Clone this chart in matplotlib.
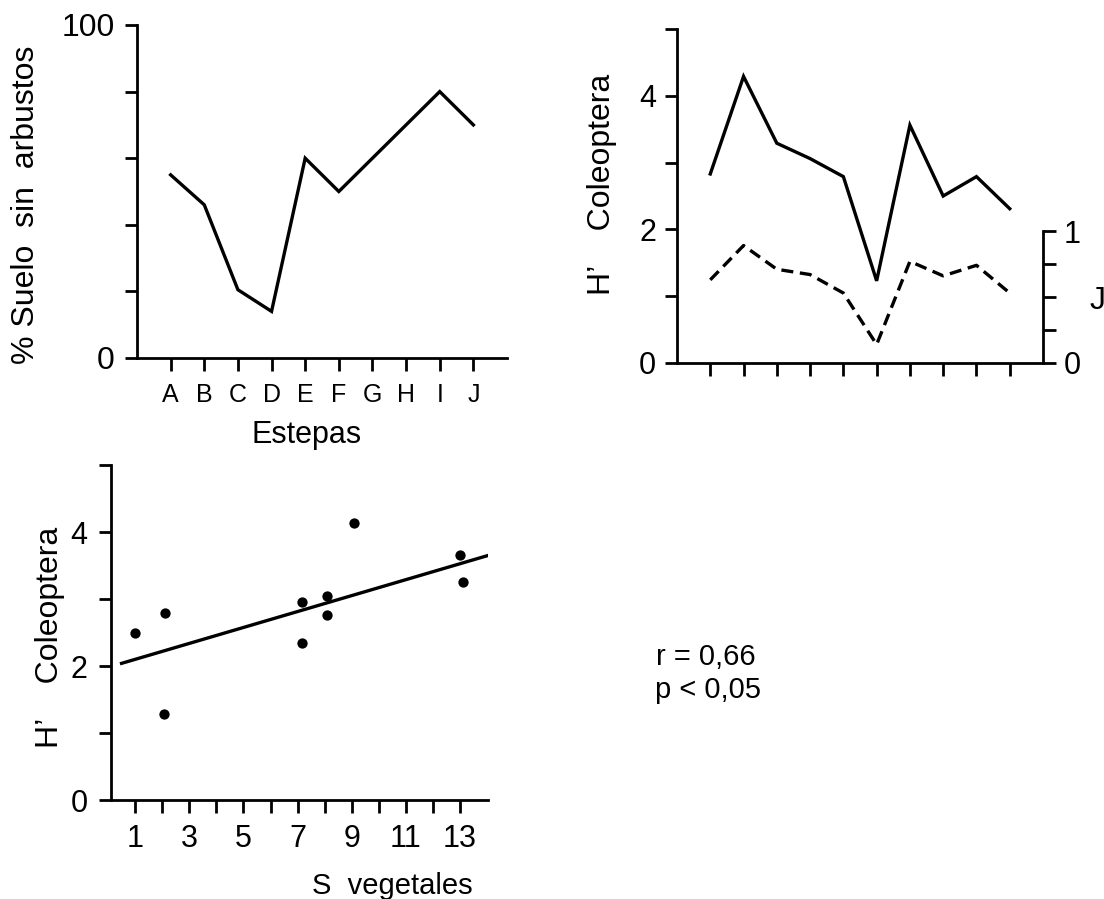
import matplotlib
matplotlib.use('Agg')
import matplotlib.pyplot as plt
import numpy as np

plt.rcParams['font.family'] = ['Liberation Sans', 'DejaVu Sans']

W, H = 1104, 899

# ---- data: panel 1 (top left) ----
estepas = ['A', 'B', 'C', 'D', 'E', 'F', 'G', 'H', 'I', 'J']
suelo_sin_arbustos = [55, 46, 20.5, 14, 60, 50, 60, 70, 80, 70]
y1_ticks = [0, 20, 40, 60, 80, 100]
y1_labels = ['0', '', '', '', '', '100']

# ---- data: panel 2 (top right) ----
h_coleoptera = [2.83, 4.29, 3.29, 3.06, 2.79, 1.23, 3.56, 2.50, 2.79, 2.31]
j_equitatividad = [0.63, 0.89, 0.71, 0.67, 0.53, 0.14, 0.77, 0.66, 0.74, 0.53]
y2_ticks = [0, 1, 2, 3, 4, 5]
y2_labels = ['0', '', '2', '', '4', '']
j_ticks = [0, 0.25, 0.5, 0.75, 1]
j_labels = ['0', '', '', '', '1']

# ---- data: panel 3 (bottom) ----
s_vegetales = [1.0, 2.1, 2.05, 7.15, 7.15, 8.1, 8.1, 9.1, 13.0, 13.1]
h_scatter = [2.50, 2.79, 1.29, 2.34, 2.96, 3.04, 2.76, 4.13, 3.65, 3.26]
reg_intercept = 1.98
reg_slope = 0.119
x3_ticks = list(range(1, 14))
x3_labels = [str(v) if v % 2 == 1 else '' for v in x3_ticks]
y3_ticks = [0, 1, 2, 3, 4, 5]
y3_labels = ['0', '', '2', '', '4', '']
r_text = 'r = 0,66'
p_text = 'p < 0,05'

LW = 2.0
LINE_LW = 2.4
TICK_LEN = 9.0

fig = plt.figure(figsize=(W / 100, H / 100), dpi=100)


def add_axes_px(left, top, right, bottom):
    return fig.add_axes([left / W, 1 - bottom / H, (right - left) / W, (bottom - top) / H])


def fx(x):
    return x / W


def fy(y):
    return 1 - y / H


def style(ax):
    for s in ['top', 'right']:
        ax.spines[s].set_visible(False)
    for s in ['left', 'bottom']:
        ax.spines[s].set_linewidth(LW)
        ax.spines[s].set_color('black')
    ax.tick_params(direction='out', length=TICK_LEN, width=LW, color='black')
    ax.patch.set_alpha(0)


# ---------------- panel 1 ----------------
ax1 = add_axes_px(137, 25, 507, 358)
style(ax1)
pos = np.arange(1, len(estepas) + 1)
ax1.plot(pos, suelo_sin_arbustos, color='black', lw=LINE_LW, solid_joinstyle='miter')
ax1.set_xlim(0, 11)
ax1.set_ylim(0, 100)
ax1.set_xticks(pos)
ax1.set_xticklabels(estepas)
ax1.set_yticks(y1_ticks)
ax1.set_yticklabels(y1_labels)
ax1.tick_params(axis='x', labelsize=18, pad=9)
ax1.tick_params(axis='y', labelsize=23, pad=7)
fig.text(fx(26), fy(205), '% Suelo  sin  arbustos', rotation=90, ha='center', va='center',
         fontsize=23)
fig.text(fx(307), fy(443), 'Estepas', ha='center', va='baseline', fontsize=22)

# ---------------- panel 2 ----------------
ax2 = add_axes_px(677, 29, 1043, 363)
style(ax2)
ax2.plot(pos, h_coleoptera, color='black', lw=LINE_LW, solid_joinstyle='miter')
ax2.set_xlim(0, 11)
ax2.set_ylim(0, 5)
ax2.set_xticks(pos)
ax2.set_xticklabels([])
ax2.set_yticks(y2_ticks)
ax2.set_yticklabels(y2_labels)
ax2.tick_params(axis='y', labelsize=22, pad=6)

ax2b = ax2.twinx()
for s in ['top', 'left', 'bottom']:
    ax2b.spines[s].set_visible(False)
ax2b.spines['right'].set_linewidth(LW)
ax2b.spines['right'].set_bounds(0, 1)
ax2b.set_ylim(0, 334 / 132)
ax2b.plot(pos, j_equitatividad, color='black', lw=LINE_LW, linestyle=(0, (3.6, 2.0)))
ax2b.set_yticks(j_ticks)
ax2b.set_yticklabels(j_labels)
ax2b.tick_params(axis='y', direction='out', length=TICK_LEN, width=LW, labelsize=22, pad=6)
ax2b.patch.set_alpha(0)

fig.text(fx(602), fy(184), 'H’    Coleoptera', rotation=90, ha='center', va='center',
         fontsize=23)
fig.text(fx(1098), fy(301), 'J', ha='center', va='center', fontsize=23)

# ---------------- panel 3 ----------------
ax3 = add_axes_px(111, 465, 488, 800)
style(ax3)
ax3.scatter(s_vegetales, h_scatter, s=55, color='black', zorder=3, linewidths=0)
xl = np.array([0.5, 14.0])
ax3.plot(xl, reg_intercept + reg_slope * xl, color='black', lw=LINE_LW)
ax3.set_xlim(0.11, 14.03)
ax3.set_ylim(0, 5)
ax3.set_xticks(x3_ticks)
ax3.set_xticklabels(x3_labels)
ax3.set_yticks(y3_ticks)
ax3.set_yticklabels(y3_labels)
ax3.tick_params(axis='x', labelsize=22, pad=8)
ax3.tick_params(axis='y', labelsize=22, pad=8)
fig.text(fx(50), fy(637), 'H’    Coleoptera', rotation=90, ha='center', va='center',
         fontsize=23)
fig.text(fx(392), fy(894), 'S  vegetales', ha='center', va='baseline', fontsize=21)

fig.text(fx(656), fy(665), r_text, ha='left', va='baseline', fontsize=21)
fig.text(fx(655), fy(698), p_text, ha='left', va='baseline', fontsize=21)

fig.savefig('out.png', dpi=100, facecolor='white')
